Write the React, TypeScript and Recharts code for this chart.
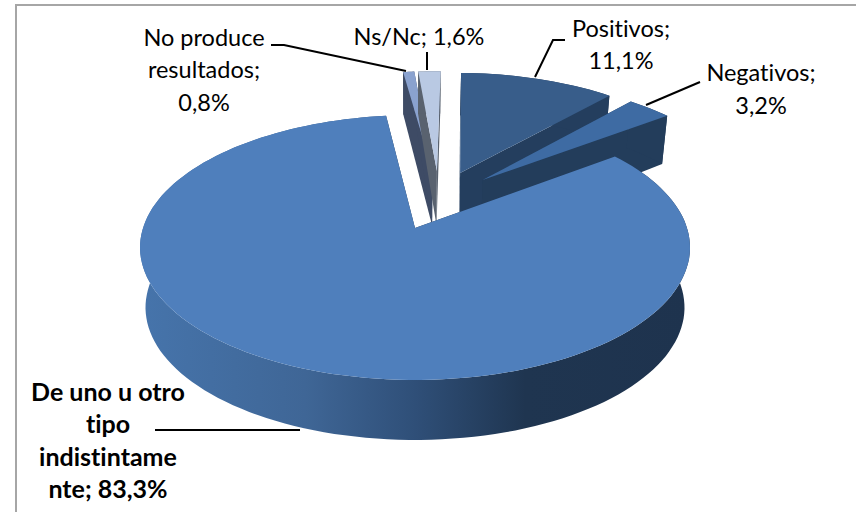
import React from "react";
import { PieChart, Pie } from "recharts";

// Share of answers, in percent (clockwise from the top of the pie)
const categories = ["No produce resultados", "Ns/Nc", "Positivos", "Negativos", "De uno u otro tipo indistintamente"];
const shares = [0.8, 1.6, 11.1, 3.2, 83.3];

const topColors = ["#8aa2cf", "#b9c9e3", "#385d8a", "#3e6ba3", "#4f7fbc"];
const wallColors = ["#3e4b65", "#59626f", "#243e5e", "#233d5b", "url(#mainWall)"];

const labelLines = [
  ["No produce", "resultados;", "0,8%"],
  ["Ns/Nc; 1,6%"],
  ["Positivos;", "11,1%"],
  ["Negativos;", "3,2%"],
  ["De uno u otro", "tipo", "indistintame", "nte; 83,3%"],
];

const data = categories.map((name, i) => ({ name, value: shares[i] }));

const WIDTH = 856;
const HEIGHT = 512;
const START_ANGLE = 97;
const EXPLODE = 0.245;
const EXPLODE_X = 0.95;
const PERSPECTIVE = 0.147;
const SQUASH = 129.6;

const labelLayout = [
  { x: 204, y: [37, 69, 102], leader: "271,45 284,45 406,71" },
  { x: 419, y: [36], leader: "427,52 427,70" },
  { x: 621, y: [28, 60], leader: "565,40 553,40 535,77" },
  { x: 761, y: [72, 105], leader: "700,82 646,105" },
  { x: 108, y: [391, 423, 456, 488], leader: "155,430 300,430" },
];

const total = shares.reduce((a, b) => a + b, 0);
const mainIndex = shares.length - 1;
const mainMidAngle =
  START_ANGLE - (360 * (total - shares[mainIndex] / 2)) / total;

const toRad = (deg: number) => (deg * Math.PI) / 180;

// plane coordinates (u right, v towards the viewer) to screen, 3D pie with perspective
function project(cx: number, cy: number, radius: number, u: number, v: number) {
  const w = 1 - PERSPECTIVE * v;
  return { x: cx + (radius * u) / w, y: cy + (SQUASH * v) / w, v };
}

function drop(p: { x: number; y: number; v: number }, cx: number) {
  const depth = Math.min(60, 60 + 12 * p.v);
  return { x: cx + (p.x - cx) * 0.98, y: p.y + depth };
}

const toPath = (pts: { x: number; y: number }[]) =>
  "M" + pts.map((p) => `${p.x.toFixed(1)},${p.y.toFixed(1)}`).join("L") + "Z";

function Slice3D(props: any) {
  const { cx, cy, outerRadius, startAngle, endAngle, midAngle, index } = props;
  // every slice is pulled out from the pie centre, the main slice stays at (cx, cy)
  const ou = EXPLODE * EXPLODE_X * (Math.cos(toRad(midAngle)) - Math.cos(toRad(mainMidAngle)));
  const ov = EXPLODE * (-Math.sin(toRad(midAngle)) + Math.sin(toRad(mainMidAngle)));
  const apex = project(cx, cy, outerRadius, ou, ov);

  const rim = [];
  const steps = Math.max(4, Math.ceil(Math.abs(endAngle - startAngle) / 2));
  for (let i = 0; i <= steps; i++) {
    const a = toRad(startAngle + ((endAngle - startAngle) * i) / steps);
    rim.push(project(cx, cy, outerRadius, ou + Math.cos(a), ov - Math.sin(a)));
  }
  const rimBottom = rim.map((p) => drop(p, cx));
  const apexBottom = drop(apex, cx);
  const first = rim[0];
  const last = rim[rim.length - 1];
  const wall = wallColors[index];
  const cutColor = index === mainIndex ? "#1f3550" : wall;

  return (
    <g>
      <defs>
        <linearGradient id="mainWall" gradientUnits="userSpaceOnUse" x1="141" y1="0" x2="690" y2="0">
          <stop offset="0" stopColor="#4674ab" />
          <stop offset="0.3" stopColor="#3f6696" />
          <stop offset="0.5" stopColor="#2f4f78" />
          <stop offset="0.7" stopColor="#1f3550" />
          <stop offset="1" stopColor="#1e334e" />
        </linearGradient>
      </defs>
      <path d={toPath([apex, first, rimBottom[0], apexBottom])} fill={cutColor} />
      <path d={toPath([apex, last, rimBottom[rimBottom.length - 1], apexBottom])} fill={cutColor} />
      <path d={toPath([...rim, ...[...rimBottom].reverse()])} fill={wall} />
      <path d={toPath([apex, ...rim])} fill={topColors[index]} />
    </g>
  );
}

function SliceLabel(props: any) {
  const { index } = props;
  const layout = labelLayout[index];
  const isMain = index === mainIndex;
  return (
    <g>
      <polyline points={layout.leader} fill="none" stroke="#000" strokeWidth={2} />
      {labelLines[index].map((line, i) => (
        <text
          key={line}
          x={layout.x}
          y={layout.y[i]}
          textAnchor="middle"
          dominantBaseline="central"
          fontFamily="Lato, sans-serif"
          fontSize={isMain ? 25 : 23.5}
          fontWeight={isMain ? 700 : 400}
          fill="#000"
          style={{ fontVariantLigatures: "none" }}
        >
          {line}
        </text>
      ))}
    </g>
  );
}

export default function App() {
  return (
    <div style={{ position: "absolute", left: 0, top: 0, width: WIDTH, height: HEIGHT, background: "#fff" }}>
      <div
        style={{
          position: "absolute",
          left: 15,
          top: 4,
          right: 0,
          bottom: 0,
          borderTop: "2px solid #a6a6a6",
          borderLeft: "2px solid #a6a6a6",
        }}
      />
      <PieChart width={WIDTH} height={HEIGHT} margin={{ top: 0, right: 0, bottom: 0, left: 0 }}>
        <Pie
          data={data}
          dataKey="value"
          nameKey="name"
          cx={415}
          cy={228}
          outerRadius={272}
          startAngle={START_ANGLE}
          endAngle={START_ANGLE - 360}
          stroke="none"
          shape={Slice3D}
          label={SliceLabel}
          labelLine={false}
          isAnimationActive={false}
        />
      </PieChart>
    </div>
  );
}
